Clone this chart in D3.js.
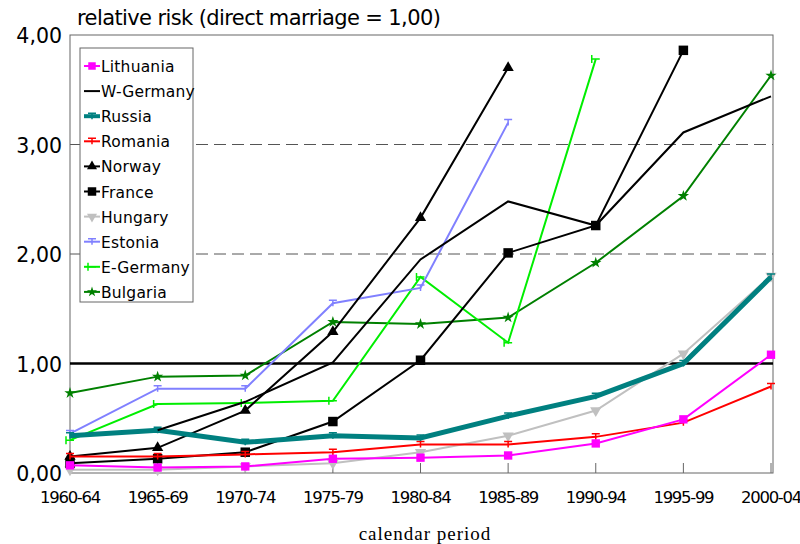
<!DOCTYPE html>
<html>
<head>
<meta charset="utf-8">
<script src="https://cdn.jsdelivr.net/npm/d3@7"></script>
<style>
  body { margin: 0; background: #fff; }
  svg { display: block; }
</style>
</head>
<body>
<div id="chart"></div>
<script>
// periods along the x axis
var periods = ["1960-64", "1965-69", "1970-74", "1975-79", "1980-84", "1985-89", "1990-94", "1995-99", "2000-04"]
var yTicks = [0, 1, 2, 3, 4]

// relative risk per country (null = no value)
var lithuania = [0.07, 0.05, 0.06, 0.13, 0.14, 0.16, 0.27, 0.49, 1.08]
var wGermany  = [null, 0.39, 0.65, 1.01, 1.95, 2.48, 2.26, 3.11, 3.44]
var russia    = [0.34, 0.39, 0.28, 0.34, 0.32, 0.52, 0.70, 1.00, 1.79]
var romania   = [0.15, 0.15, 0.17, 0.19, 0.26, 0.26, 0.33, 0.46, 0.79]
var norway    = [0.15, 0.23, 0.57, 1.29, 2.33, 3.70, null, null, null]
var france    = [0.09, 0.13, 0.19, 0.47, 1.03, 2.01, 2.26, 3.86, null]
var hungary   = [0.03, 0.03, 0.06, 0.09, 0.19, 0.34, 0.57, 1.09, 1.80]
var estonia   = [0.36, 0.77, 0.77, 1.55, 1.69, 3.20, null, null, null]
var eGermany  = [0.30, 0.63, 0.64, 0.66, 1.79, 1.19, 3.78, null, null]
var bulgaria  = [0.73, 0.88, 0.89, 1.38, 1.36, 1.42, 1.92, 2.53, 3.63]

var series = [
    {name: "Lithuania", values: lithuania, color: "#ff00ff", width: 2, symbol: "square", size: 70},
    {name: "W-Germany", values: wGermany, color: "#000000", width: 2, symbol: null},
    {name: "Russia", values: russia, color: "#008080", width: 5, symbol: "tick", size: 20},
    {name: "Romania", values: romania, color: "#ff0000", width: 2, symbol: "tick", size: 16},
    {name: "Norway", values: norway, color: "#000000", width: 2, symbol: "triangle", size: 55},
    {name: "France", values: france, color: "#000000", width: 2, symbol: "square", size: 90},
    {name: "Hungary", values: hungary, color: "#c0c0c0", width: 2, symbol: "triangledown", size: 55},
    {name: "Estonia", values: estonia, color: "#8080ff", width: 2, symbol: "tick", size: 16},
    {name: "E-Germany", values: eGermany, color: "#00ee00", width: 2, symbol: "bracket", size: 16},
    {name: "Bulgaria", values: bulgaria, color: "#008000", width: 2, symbol: "star", size: 40}
]

var svgSize = {width: 800, height: 544}
var margin = {top: 35, bottom: 71, left: 70, right: 27}
var chartSize = {
    width: svgSize.width - margin.left - margin.right,
    height: svgSize.height - margin.top - margin.bottom
}

var svg = d3.select("#chart").append("svg")
    .attr("width", svgSize.width)
    .attr("height", svgSize.height)

var frame = svg.append("g")
    .attr("transform", `translate(${margin.left}, ${margin.top})`)

var xScale = d3.scalePoint()
    .domain(periods)
    .range([0, chartSize.width - 2])
var yScale = d3.scaleLinear()
    .domain([0, 4])
    .range([chartSize.height, 0])

// grid lines
frame.append("g").selectAll("line").data([2, 3])
    .enter().append("line")
    .attr("x1", 0).attr("x2", chartSize.width)
    .attr("y1", d => yScale(d)).attr("y2", d => yScale(d))
    .attr("stroke", "#555").attr("stroke-width", 1)
    .attr("stroke-dasharray", "12,6")

// plot frame
frame.append("rect")
    .attr("width", chartSize.width).attr("height", chartSize.height)
    .attr("fill", "none").attr("stroke", "#666").attr("stroke-width", 1)

// x ticks inside the frame
frame.append("g").selectAll("line").data(periods)
    .enter().append("line")
    .attr("x1", d => xScale(d)).attr("x2", d => xScale(d))
    .attr("y1", chartSize.height - 10).attr("y2", chartSize.height)
    .attr("stroke", "#666")

// reference line at 1,00
frame.append("line")
    .attr("x1", 0).attr("x2", chartSize.width)
    .attr("y1", yScale(1)).attr("y2", yScale(1))
    .attr("stroke", "#000").attr("stroke-width", 2.5)

var line = d3.line()
    .defined(d => d != null)
    .x((d, i) => xScale(periods[i]))
    .y(d => yScale(d))

function markerPath(s) {
    if (s.symbol == "square") return d3.symbol(d3.symbolSquare, s.size)()
    if (s.symbol == "triangle") return d3.symbol(d3.symbolTriangle, s.size)()
    if (s.symbol == "triangledown") return d3.symbol(d3.symbolTriangle, s.size)()
    if (s.symbol == "star") return d3.symbol(d3.symbolStar, s.size)()
    if (s.symbol == "tick") return "M-4,-3L4,-3M0,-3L0,3"
    if (s.symbol == "bracket") return "M-4,-4L-4,4M-4,0L4,0"
    return null
}

function drawMarker(g, s, x, y) {
    var p = markerPath(s)
    if (!p) return
    var filled = ["square", "triangle", "triangledown", "star"].indexOf(s.symbol) >= 0
    g.append("path")
        .attr("d", p)
        .attr("transform", `translate(${x}, ${y})` + (s.symbol == "triangledown" ? " rotate(180)" : ""))
        .attr("fill", filled ? s.color : "none")
        .attr("stroke", s.color)
        .attr("stroke-width", filled ? 0 : 1.5)
}

var chartData = frame.append("g")
series.slice().reverse().forEach(s => {
    var g = chartData.append("g")
    g.append("path")
        .attr("d", line(s.values))
        .attr("fill", "none")
        .attr("stroke", s.color)
        .attr("stroke-width", s.width)
        .attr("stroke-linejoin", "miter")
    s.values.forEach((v, i) => {
        if (v == null) return
        drawMarker(g, s, xScale(periods[i]), yScale(v))
    })
})

// y axis labels
svg.append("g").selectAll("text").data(yTicks)
    .enter().append("text")
    .attr("x", 62)
    .attr("y", d => margin.top + yScale(d) + 8)
    .attr("text-anchor", "end")
    .attr("font-family", "DejaVu Sans")
    .attr("font-size", 20.5)
    .text(d => d.toFixed(2).replace(".", ","))

// x axis labels
svg.append("g").selectAll("text").data(periods)
    .enter().append("text")
    .attr("x", d => margin.left + xScale(d))
    .attr("y", 503)
    .attr("text-anchor", "middle")
    .attr("font-family", "DejaVu Sans")
    .attr("font-size", 16.5)
    .attr("letter-spacing", -1.3)
    .text(d => d)

// title
svg.append("text")
    .attr("x", 77).attr("y", 25)
    .attr("font-family", "DejaVu Sans")
    .attr("font-size", 21)
    .attr("letter-spacing", -0.6)
    .text("relative risk (direct marriage = 1,00)")

// x title
svg.append("text")
    .attr("x", 425).attr("y", 540)
    .attr("text-anchor", "middle")
    .attr("font-family", "Liberation Serif")
    .attr("font-size", 19)
    .attr("letter-spacing", 1)
    .text("calendar period")

// legend
var legend = svg.append("g").attr("transform", "translate(80, 48)")
legend.append("rect")
    .attr("width", 113).attr("height", 254)
    .attr("fill", "#fff").attr("stroke", "#666")
series.forEach((s, i) => {
    var y = 18 + i * 25.1
    var g = legend.append("g")
    g.append("line")
        .attr("x1", 4).attr("x2", 20)
        .attr("y1", y).attr("y2", y)
        .attr("stroke", s.color).attr("stroke-width", Math.min(s.width, 4))
    drawMarker(g, Object.assign({}, s, {size: (s.size || 0) * 0.8}), 12, y)
    g.append("text")
        .attr("x", 21).attr("y", y + 6)
        .attr("font-family", "DejaVu Sans")
        .attr("font-size", 15.5)
        .attr("letter-spacing", 0.2)
        .text(s.name)
})
</script>
</body>
</html>
